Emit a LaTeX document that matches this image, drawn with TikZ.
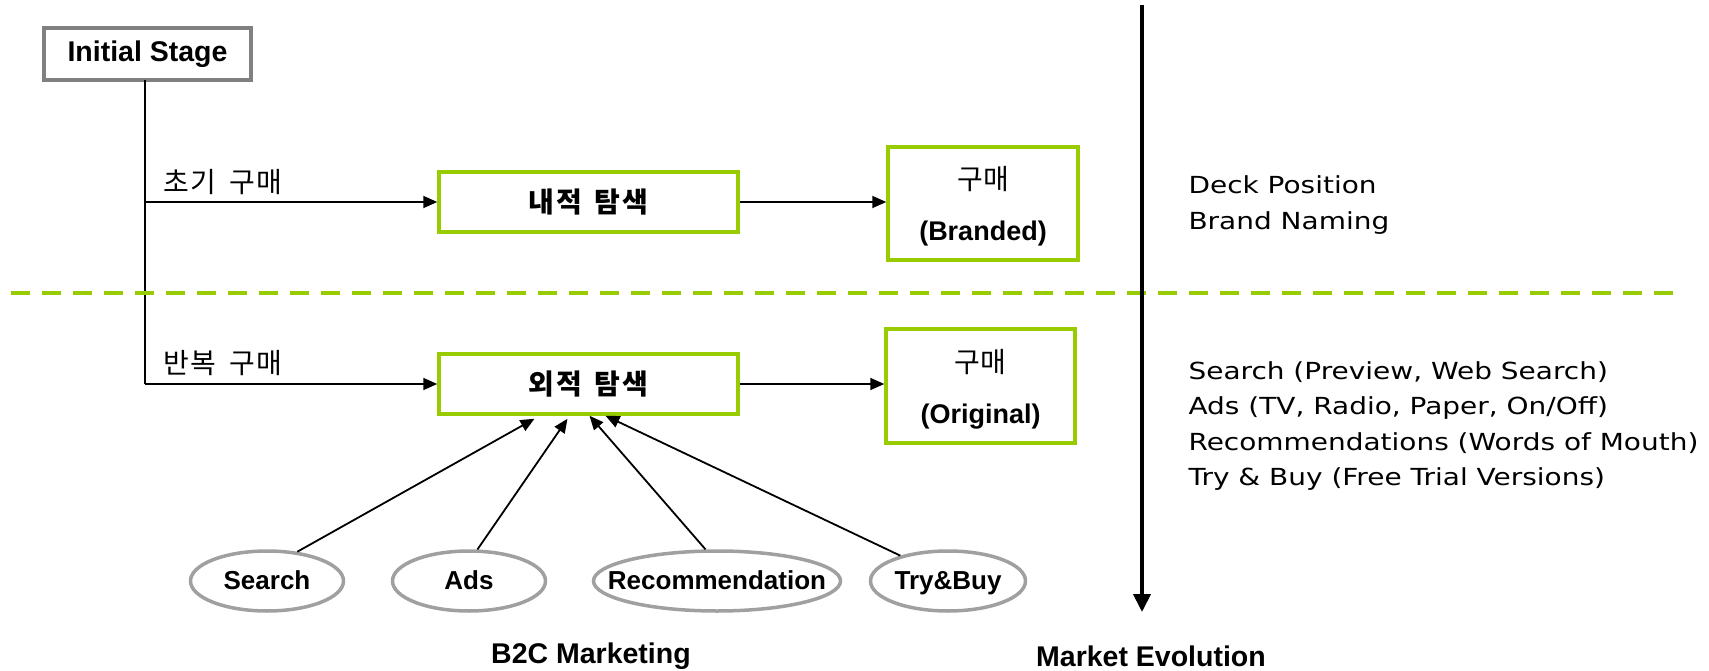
\documentclass[tikz,border=0pt]{standalone}
\usepackage{fontspec}
\setmainfont{Liberation Sans}
\newfontfamily\kor{Noto Sans CJK KR}
\newfontfamily\korwide[LetterSpace=6,WordSpace=1.6]{Noto Sans CJK KR}
\newfontfamily\plain[FakeStretch=1.19]{DejaVu Sans}
\usetikzlibrary{arrows.meta,shapes.geometric}
\definecolor{leaf}{HTML}{99CC00}
\definecolor{stone}{HTML}{808080}
\definecolor{pebble}{HTML}{A0A0A0}
\tikzset{
  stagebox/.style={draw=stone, line width=3.5pt, fill=white, inner sep=0pt,
    font=\fontsize{28.5}{30}\selectfont\bfseries},
  greenbox/.style={draw=leaf, line width=3.5pt, fill=white, inner sep=0pt},
  searchbox/.style={greenbox, minimum width=299pt, minimum height=60pt,
    font=\korwide\fontsize{28}{30}\selectfont\bfseries},
  buybox/.style={greenbox, align=center, inner sep=0pt},
  source/.style={ellipse, draw=pebble, line width=3.5pt, inner sep=0pt,
    minimum height=60pt, font=\fontsize{26}{28}\selectfont\bfseries},
  flow/.style={line width=1.8pt, -{Triangle[length=14pt,width=12pt]}},
  branch/.style={font=\korwide\fontsize{28}{30}\selectfont, anchor=west},
  note/.style={font=\plain\fontsize{23.5}{35.2}\selectfont, anchor=west, align=left},
  caption/.style={font=\fontsize{28.5}{30}\selectfont\bfseries}
}
% two-line label of a purchase box
\newcommand{\buylabel}[1]{{\kor\fontsize{28}{30}\selectfont\rule{0pt}{29.4pt}구매}\\[28.4pt]{\fontsize{27}{30}\selectfont\bfseries #1}}
% centred ellipse text that ignores descenders
\newcommand{\srclabel}[1]{\makebox[0pt]{\smash{#1}\vphantom{T}}}
\begin{document}
\begin{tikzpicture}[x=1pt,y=-1pt]
\useasboundingbox[fill=white] (0,0) rectangle (1709,671);

% starting point
\node[stagebox, minimum width=207pt, minimum height=52pt] (init) at (147.5,54) {Initial Stage};

% search boxes
\node[searchbox] (inner) at (588.5,202) {내적 탐색};
\node[searchbox] (outer) at (588.5,384) {외적 탐색};

% purchase boxes
\node[buybox, minimum width=190pt, minimum height=113pt] (branded) at (983,203.5) {\buylabel{(Branded)}};
\node[buybox, minimum width=189pt, minimum height=114pt] (original) at (980.5,386) {\buylabel{(Original)}};

% marketing sources
\node[source, minimum width=153pt] (s1) at (267,581) {\srclabel{Search}};
\node[source, minimum width=153pt] (s2) at (469,581) {\srclabel{Ads}};
\node[source, minimum width=247pt] (s3) at (717,581) {\srclabel{Recommendation}};
\node[source, minimum width=155pt] (s4) at (948,581) {\srclabel{Try\&Buy}};

% branching trunk
\coordinate (top) at (145,80);
\coordinate (b1) at (top |- inner.west);
\coordinate (b2) at (top |- outer.west);
\draw[line width=1.8pt] (top) -- (b2);
\draw[flow] (b1) -- (inner.west);
\draw[flow] (b2) -- (outer.west);
\node[branch] (l1) at (160,182) {초기 구매};
\node[branch] (l2) at (160,363) {반복 구매};

\draw[flow] (inner.east) -- (branded.west |- inner.east);
\draw[flow] (outer.east) -- (original.west |- outer.east);

% sources feeding the external search
\draw[flow] (s1.44) -- ([xshift=-54pt,yshift=-3pt]outer.south);
\draw[flow] (s2.75) -- ([xshift=-21pt,yshift=-3pt]outer.south);
\draw[flow] (s3.110) -- ([xshift=1pt]outer.south);
\draw[flow] (s4.152) -- ([xshift=17pt]outer.south);

% divider between first and repeat purchase
\coordinate (dl) at (11,293);
\coordinate (dr) at (1673,293);
\draw[leaf, line width=4.5pt, dash pattern=on 19pt off 12pt] (dl) -- (dr);

% market evolution axis
\coordinate (et) at (1142,5);
\coordinate (eb) at (1142,612);
\draw[line width=4pt, -{Triangle[length=18pt,width=17pt]}] (et) -- (eb);

% notes on the right
\node[note] (n1) at (1185,205) {Deck Position\\Brand Naming};
\node[note] (n2) at (1185,426) {Search (Preview, Web Search)\\Ads (TV, Radio, Paper, On/Off)\\Recommendations (Words of Mouth)\\Try \& Buy (Free Trial Versions)};

% captions
\node[caption] (c1) at (591,656) {B2C Marketing};
\node[caption] (c2) at (1151,656) {Market Evolution};
\end{tikzpicture}
\end{document}
